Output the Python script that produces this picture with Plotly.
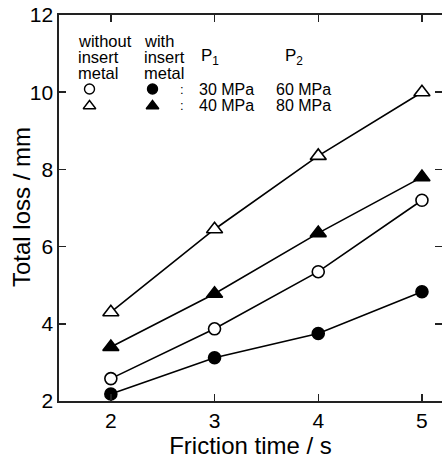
import plotly.graph_objects as go

# ---- data ----
friction_time = [2, 3, 4, 5]
open_triangle = [4.3, 6.45, 8.35, 10.0]     # without insert metal, P1=40 MPa, P2=80 MPa
filled_triangle = [3.4, 4.78, 6.35, 7.8]    # with insert metal, P1=40 MPa, P2=80 MPa
open_circle = [2.58, 3.87, 5.35, 7.2]       # without insert metal, P1=30 MPa, P2=60 MPa
filled_circle = [2.18, 3.12, 3.75, 4.83]    # with insert metal, P1=30 MPa, P2=60 MPa
x_ticks = [2, 3, 4, 5]
y_ticks = [2, 4, 6, 8, 10, 12]

W, H = 442, 459
L, R, T, B = 59, 0, 15, 58
PW, PH = W - L - R, H - T - B
XR = [1.5, 1.5 + PW / 103.7]
YR = [2, 12]

FONT = "Liberation Sans, Arial, Helvetica, sans-serif"
LINE = dict(color="black", width=1.6)

def px_x(px):
    return XR[0] + (px - L) / PW * (XR[1] - XR[0])

def px_y(py):
    return YR[1] - (py - T) / PH * (YR[1] - YR[0])

def paper_x(px):
    return (px - L) / PW

def paper_y(py):
    return (H - B - py) / PH

fig = go.Figure()

series = [
    (open_triangle, "triangle-up", "white", 14),
    (filled_triangle, "triangle-up", "black", 14),
    (open_circle, "circle", "white", 12),
    (filled_circle, "circle", "black", 12),
]
for ys, sym, fill, size in series:
    fig.add_trace(go.Scatter(
        x=friction_time, y=ys, mode="lines+markers",
        line=LINE,
        marker=dict(symbol=sym, size=size, color=fill,
                    line=dict(color="black", width=1.6)),
        showlegend=False, cliponaxis=False, hoverinfo="skip",
    ))

# legend key markers (drawn in data space)
key = [
    (89.5, 89, "circle", "white", 10),
    (89.5, 106, "triangle-up", "white", 11),
    (152.5, 89, "circle", "black", 10),
    (152.5, 106, "triangle-up", "black", 11),
]
for kx, ky, sym, fill, size in key:
    fig.add_trace(go.Scatter(
        x=[px_x(kx)], y=[px_y(ky)], mode="markers",
        marker=dict(symbol=sym, size=size, color=fill,
                    line=dict(color="black", width=1.4)),
        showlegend=False, cliponaxis=False, hoverinfo="skip",
    ))

ann = []
def txt(text, px, py, size=16.5, xanchor="left", textangle=0):
    ann.append(dict(text=text, x=paper_x(px), y=paper_y(py), xref="paper", yref="paper",
                    xanchor=xanchor, yanchor="middle", showarrow=False, borderpad=0,
                    textangle=textangle,
                    font=dict(family=FONT, size=size, color="black")))

txt("without", 77, 41)
txt("insert", 77, 57)
txt("metal", 77, 73)
txt("with", 143, 41)
txt("insert", 143, 57)
txt("metal", 143, 73)
txt("P<sub>1</sub>", 200, 57, size=17)
txt("P<sub>2</sub>", 284, 57, size=17)
txt(":", 182, 89, size=13, xanchor="center")
txt(":", 182, 105, size=13, xanchor="center")
txt("30 MPa", 198, 89, size=16)
txt("60 MPa", 275, 89, size=16)
txt("40 MPa", 198, 105, size=16)
txt("80 MPa", 275, 105, size=16)
# y-axis title
txt("Total loss / mm", 21, 207, size=24, xanchor="center", textangle=-90)

fig.update_layout(
    width=W, height=H,
    margin=dict(l=L, r=R, t=T, b=B, autoexpand=False),
    paper_bgcolor="white", plot_bgcolor="white",
    font=dict(family=FONT, color="black"),
    annotations=ann,
    showlegend=False,
)
axis_common = dict(
    showgrid=False, zeroline=False, showline=True, mirror="ticks",
    linecolor="#222", linewidth=1.6,
    ticks="inside", ticklen=7, tickwidth=1.5, tickcolor="#222",
    tickfont=dict(family=FONT, size=21, color="black"),
    automargin=False,
)
fig.update_xaxes(range=XR, tickvals=x_ticks, **axis_common,
                 title=dict(text="Friction time / s", font=dict(family=FONT, size=24), standoff=0))
fig.update_yaxes(range=YR, tickvals=y_ticks, **axis_common)

# remove the default page margin so the figure fills the window exactly
fig.write_html("out.html",
               config={"displayModeBar": False, "staticPlot": True},
               post_script="document.body.style.margin='0';document.body.style.padding='0';"
                           "document.body.style.overflow='hidden';")
